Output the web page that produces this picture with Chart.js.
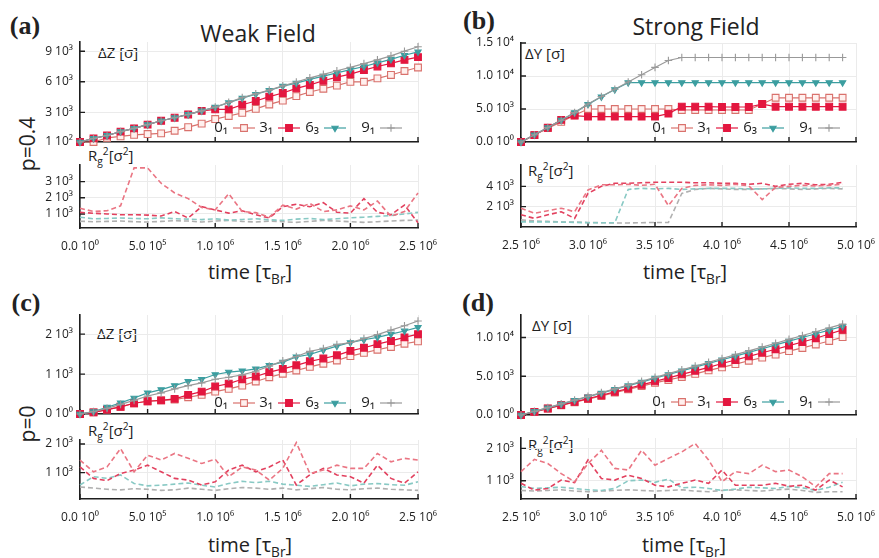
<!DOCTYPE html>
<html>
<head>
<meta charset="utf-8">
<script src="https://cdn.jsdelivr.net/npm/chart.js@4/dist/chart.umd.min.js"></script>
<style>
  html, body { margin: 0; padding: 0; background: #fff; }
  #fig { position: relative; width: 879px; height: 558px; overflow: hidden;
         font-family: "Open Sans", "Noto Sans", sans-serif; color: #222; }
  #fig canvas { position: absolute; }
  .t { position: absolute; white-space: nowrap; line-height: 1; }
  .c { transform: translate(-50%, -50%); }
  .l { transform: translateY(-50%); }
  .panel { font-family: "Liberation Serif", serif; font-weight: bold; font-size: 26px; }
  .title { font-size: 23px; }
  .xt { font-size: 20px; }
  .yl { font-size: 15px; }
  .p { font-size: 21px; transform: translate(-50%, -50%) rotate(-90deg); }
  sub, sup { font-size: 68%; line-height: 0; }
</style>
</head>
<body>
<div id="fig">
  <div class="t c panel" style="left:25px;top:26px">(a)</div>
  <div class="t c panel" style="left:479px;top:21px">(b)</div>
  <div class="t c panel" style="left:26px;top:303px">(c)</div>
  <div class="t c panel" style="left:478px;top:303px">(d)</div>
  <div class="t c title" style="left:258px;top:33px">Weak Field</div>
  <div class="t c title" style="left:696px;top:26px">Strong Field</div>
  <div class="t p" style="left:27px;top:144px">p=0.4</div>
  <div class="t p" style="left:27px;top:424px">p=0</div>
  <div class="t c xt" style="left:250px;top:272px">time [τ<sub>Br</sub>]</div>
  <div class="t c xt" style="left:685px;top:272px">time [τ<sub>Br</sub>]</div>
  <div class="t c xt" style="left:250px;top:545px">time [τ<sub>Br</sub>]</div>
  <div class="t c xt" style="left:684px;top:545px">time [τ<sub>Br</sub>]</div>
  <div class="t l yl" style="left:98px;top:52px">ΔZ [σ]</div>
  <div class="t l yl" style="left:525px;top:53px">ΔY [σ]</div>
  <div class="t l yl" style="left:97px;top:333px">ΔZ [σ]</div>
  <div class="t l yl" style="left:532px;top:325px">ΔY [σ]</div>
  <div class="t l yl" style="left:88px;top:155px">R<sub>g</sub><sup>2</sup>[σ<sup>2</sup>]</div>
  <div class="t l yl" style="left:528px;top:170px">R<sub>g</sub><sup>2</sup>[σ<sup>2</sup>]</div>
  <div class="t l yl" style="left:88px;top:430px">R<sub>g</sub><sup>2</sup>[σ<sup>2</sup>]</div>
  <div class="t l yl" style="left:528px;top:444px">R<sub>g</sub><sup>2</sup>[σ<sup>2</sup>]</div>
</div>
<script>
// ---- sampling times ----
const timeWeak = [0, 100000, 200000, 300000, 400000, 500000, 600000, 700000, 800000, 900000,
  1000000, 1100000, 1200000, 1300000, 1400000, 1500000, 1600000, 1700000, 1800000, 1900000,
  2000000, 2100000, 2200000, 2300000, 2400000, 2500000];
const timeStrong = [2500000, 2600000, 2700000, 2800000, 2900000, 3000000, 3100000, 3200000,
  3300000, 3400000, 3500000, 3600000, 3700000, 3800000, 3900000, 4000000, 4100000, 4200000,
  4300000, 4400000, 4500000, 4600000, 4700000, 4800000, 4900000];

// ---- knot types ----
const knots = ['0₁', '3₁', '6₃', '9₁'];

// ---- (a) weak field, p=0.4 : displacement along Z ----
const aDisp01 = [100, 100, 500, 650, 800, 880, 950, 1200, 1550, 1900, 2350, 2650, 2950, 3350, 3780, 4150, 4600, 5000, 5320, 5620, 6000, 6000, 6340, 6670, 7060, 7400];
const aDisp31 = [100, 450, 740, 1120, 1440, 1800, 2180, 2480, 2800, 3150, 3300, 3300, 3750, 4120, 4550, 4900, 5350, 5700, 6100, 6450, 6750, 7150, 7500, 7800, 8150, 8420];
const aDisp63 = [100, 450, 740, 1120, 1440, 1800, 2180, 2480, 2800, 3150, 3520, 3950, 4400, 4780, 5150, 5580, 5870, 6230, 6560, 6880, 7200, 7500, 7850, 8200, 8600, 8930];
const aDisp91 = [100, 450, 740, 1120, 1440, 1800, 2180, 2480, 2800, 3150, 3520, 3980, 4450, 4820, 5180, 5600, 5980, 6380, 6730, 7080, 7420, 7780, 8150, 8540, 9000, 9430];
// (a) radius of gyration
const aRg01 = [1350, 1150, 1200, 1500, 3850, 3850, 2900, 2300, 1950, 1400, 1250, 2250, 1150, 1080, 800, 1550, 1300, 1650, 1150, 1250, 1500, 1250, 1800, 850, 1150, 2300];
const aRg31 = [1100, 1040, 1000, 950, 950, 930, 870, 1150, 750, 1450, 1250, 1050, 1200, 950, 750, 1450, 1600, 1450, 1700, 1100, 1050, 1950, 1100, 950, 1550, 450];
const aRg63 = [800, 700, 720, 750, 720, 700, 760, 700, 680, 650, 700, 620, 660, 700, 640, 600, 680, 720, 650, 700, 760, 800, 850, 900, 1000, 1100];
const aRg91 = [550, 520, 540, 560, 520, 500, 540, 580, 560, 500, 560, 600, 540, 500, 560, 520, 480, 540, 600, 560, 520, 480, 520, 560, 600, 620];

// ---- (b) strong field, p=0.4 : displacement along Y ----
const bDisp01 = [0, 1050, 2100, 3050, 4050, 5000, 5000, 5000, 5000, 5000, 5000, 5000, 4850, 4850, 4850, 4850, 4850, 4850, 5750, 6700, 6700, 6700, 6700, 6700, 6700];
const bDisp31 = [0, 1050, 2150, 3350, 4000, 3850, 3850, 3850, 3850, 3850, 3850, 4300, 5350, 5350, 5350, 5300, 5300, 5300, 5750, 5350, 5350, 5350, 5350, 5350, 5350];
const bDisp63 = [0, 1100, 2200, 3300, 4450, 5700, 6850, 7950, 9000, 9000, 9000, 9000, 9000, 9000, 9000, 9000, 9000, 9000, 9000, 9000, 9000, 9000, 9000, 9000, 9000];
const bDisp91 = [0, 1100, 2200, 3300, 4450, 5750, 6900, 8000, 9100, 10200, 11300, 12350, 12800, 12800, 12800, 12800, 12800, 12800, 12800, 12800, 12800, 12800, 12800, 12800, 12800];
const bRg01 = [1850, 1350, 1600, 1850, 1500, 3650, 4150, 4150, 4200, 4100, 4200, 2100, 3800, 4100, 4150, 4100, 4200, 4050, 2700, 3900, 4000, 4100, 4050, 4100, 4200];
const bRg31 = [1200, 850, 1200, 1500, 850, 3300, 4000, 4300, 4300, 4350, 4400, 4400, 4400, 4350, 4350, 4300, 4300, 4200, 4300, 4000, 4200, 4300, 4150, 4200, 4400];
const bRg63 = [500, 500, 500, 480, 450, 420, 420, 420, 3700, 3800, 3750, 3800, 3700, 3750, 3800, 3800, 3800, 3750, 3750, 3800, 3850, 3800, 3800, 3850, 3850];
const bRg91 = [700, 600, 550, 500, 480, 450, 420, 400, 400, 420, 450, 450, 3300, 3700, 3800, 3750, 3700, 3700, 3750, 3800, 3750, 3700, 3750, 3800, 3750];

// ---- (c) weak field, p=0 : displacement along Z ----
const cDisp01 = [0, 40, 110, 180, 270, 320, 340, 360, 420, 480, 560, 630, 710, 815, 920, 1010, 1090, 1180, 1260, 1340, 1450, 1530, 1610, 1680, 1760, 1820];
const cDisp31 = [0, 40, 110, 180, 270, 320, 340, 380, 480, 560, 690, 760, 870, 940, 1050, 1130, 1220, 1320, 1390, 1470, 1580, 1660, 1750, 1830, 1920, 2000];
const cDisp63 = [0, 60, 170, 280, 400, 530, 610, 710, 820, 870, 990, 1050, 1080, 1130, 1220, 1300, 1430, 1490, 1600, 1700, 1790, 1860, 1920, 2000, 2080, 2170];
const cDisp91 = [0, 60, 140, 240, 340, 450, 530, 630, 710, 780, 870, 920, 980, 1070, 1200, 1330, 1440, 1570, 1640, 1740, 1790, 1890, 1990, 2100, 2210, 2330];
const cRg01 = [1440, 1030, 1200, 1840, 1030, 1610, 1440, 1670, 1500, 1320, 1470, 860, 1200, 1090, 740, 1150, 2050, 970, 1090, 1260, 1150, 1150, 1670, 1380, 1500, 1440];
const cRg31 = [1200, 800, 720, 970, 1090, 1260, 1030, 800, 740, 570, 680, 1090, 1260, 1030, 1200, 1440, 570, 920, 1150, 920, 860, 630, 1260, 800, 630, 1030];
const cRg63 = [570, 860, 800, 920, 620, 540, 560, 600, 640, 560, 500, 620, 700, 650, 700, 600, 560, 520, 580, 640, 540, 600, 620, 580, 560, 680];
const cRg91 = [500, 460, 420, 400, 440, 420, 380, 400, 460, 420, 380, 440, 480, 460, 420, 460, 400, 440, 480, 420, 400, 440, 460, 420, 400, 380];

// ---- (d) strong field, p=0 : displacement along Y ----
const dDisp01 = [0, 400, 820, 1250, 1650, 2050, 2450, 2880, 3300, 3720, 4150, 4520, 4900, 5300, 5750, 6150, 6560, 7000, 7400, 7800, 8250, 8650, 9100, 9550, 10040];
const dDisp31 = [0, 410, 840, 1280, 1700, 2120, 2550, 2980, 3420, 3880, 4340, 4780, 5250, 5700, 6150, 6640, 7100, 7560, 8030, 8480, 8950, 9420, 9900, 10450, 10990];
const dDisp63 = [0, 460, 920, 1400, 1880, 2350, 2820, 3300, 3780, 4250, 4750, 5220, 5700, 6180, 6650, 7130, 7600, 8080, 8550, 9050, 9520, 10000, 10480, 10950, 11450];
const dDisp91 = [0, 470, 950, 1430, 1920, 2400, 2880, 3370, 3860, 4350, 4850, 5330, 5820, 6300, 6800, 7290, 7780, 8270, 8760, 9260, 9750, 10250, 10740, 11230, 11720];
const dRg01 = [1280, 1660, 1530, 1220, 970, 1530, 1940, 1380, 1330, 1940, 1480, 1690, 1890, 2150, 1640, 970, 1280, 1220, 1480, 1280, 1330, 1120, 810, 1220, 1220];
const dRg31 = [920, 710, 760, 1020, 940, 1640, 1070, 1020, 1170, 1070, 860, 810, 920, 1020, 920, 1330, 860, 860, 860, 920, 830, 860, 710, 1020, 810];
const dRg63 = [820, 760, 780, 800, 760, 720, 700, 760, 1000, 1020, 950, 1050, 780, 800, 760, 700, 740, 800, 780, 760, 820, 780, 700, 800, 950];
const dRg91 = [700, 680, 700, 720, 680, 660, 680, 700, 720, 700, 680, 700, 720, 680, 660, 700, 720, 700, 680, 720, 740, 700, 640, 660, 660];

// ---- tick values and labels ----
const weakXTicks = [0, 500000, 1000000, 1500000, 2000000, 2500000];
const weakXLabels = ['0.0 10⁰', '5.0 10⁵', '1.0 10⁶', '1.5 10⁶', '2.0 10⁶', '2.5 10⁶'];
const strongXTicks = [2500000, 3000000, 3500000, 4000000, 4500000, 5000000];
const strongXLabels = ['2.5 10⁶', '3.0 10⁶', '3.5 10⁶', '4.0 10⁶', '4.5 10⁶', '5.0 10⁶'];
const aDispTicks = [100, 3000, 6000, 9000];
const aDispLabels = ['1 10²', '3 10³', '6 10³', '9 10³'];
const aRgTicks = [1000, 2000, 3000];
const aRgLabels = ['1 10³', '2 10³', '3 10³'];
const bDispTicks = [0, 5000, 10000, 15000];
const bDispLabels = ['0.0 10⁰', '5.0 10³', '1.0 10⁴', '1.5 10⁴'];
const bRgTicks = [2000, 4000];
const bRgLabels = ['2 10³', '4 10³'];
const cDispTicks = [0, 1000, 2000];
const cDispLabels = ['0 10⁰', '1 10³', '2 10³'];
const cRgTicks = [1000, 2000];
const cRgLabels = ['1 10³', '2 10³'];
const dDispTicks = [0, 5000, 10000];
const dDispLabels = ['0.0 10⁰', '5.0 10³', '1.0 10⁴'];
const dRgTicks = [1000, 2000];
const dRgLabels = ['1 10³', '2 10³'];

// ---- styling ----
const AXIS = '#1e1e1e';
const GRID = '#ebebeb';
const TEXT = '#1e1e1e';
const FONT = '"Open Sans", "Noto Sans", sans-serif';
const knotStyle = {
  '0₁': { color: '#d9716c', fill: '#fff0ee', style: 'rect', r: 4.8, rot: 0, dash: '#ea7583', order: 3 },
  '3₁': { color: '#e3173f', fill: '#e3173f', style: 'rect', r: 4.8, rot: 0, dash: '#e2405e', order: 2 },
  '6₃': { color: '#3c9ea0', fill: '#3c9ea0', style: 'triangle', r: 3.6, rot: 180, dash: '#88c9c4', order: 1 },
  '9₁': { color: '#999999', fill: '#999999', style: 'cross', r: 3.8, rot: 0, dash: '#b0b0b0', order: 0 }
};
const rgOrder = { '0₁': 0, '3₁': 1, '6₃': 2, '9₁': 3 };
// key entry centres, measured from the right edge of the plot area
const keyOffsets = [174, 129, 83, 27];

function pairs(times, vals) { return times.map((t, i) => ({ x: t, y: vals[i] })); }

function dispSet(times, vals, key) {
  const s = knotStyle[key];
  return {
    label: key, data: pairs(times, vals), borderColor: s.color, borderWidth: 1.2,
    pointStyle: s.style, pointRadius: s.r, pointRotation: s.rot,
    pointBackgroundColor: s.fill, pointBorderColor: s.color, pointBorderWidth: 1.1,
    clip: false, order: s.order, tension: 0
  };
}
function rgSet(times, vals, key) {
  const s = knotStyle[key];
  return {
    label: key, data: pairs(times, vals), borderColor: s.dash, borderWidth: 1.6,
    borderDash: [5, 3], pointRadius: 0, clip: false, order: rgOrder[key], tension: 0
  };
}

// inward tick marks on the left and bottom axes
const inwardTicks = {
  id: 'inwardTicks',
  beforeDatasetsDraw(chart) {
    const { ctx, chartArea: a, scales: { x, y } } = chart;
    ctx.save();
    ctx.strokeStyle = AXIS; ctx.lineWidth = 1.4;
    ctx.beginPath();
    x.ticks.forEach(t => { const px = x.getPixelForValue(t.value); ctx.moveTo(px, a.bottom); ctx.lineTo(px, a.bottom - 5); });
    y.ticks.forEach(t => { const py = y.getPixelForValue(t.value); ctx.moveTo(a.left, py); ctx.lineTo(a.left + 5, py); });
    ctx.stroke();
    ctx.restore();
  }
};

// one-row key: title followed by a line sample with its marker
const keyRow = {
  id: 'keyRow',
  afterDatasetsDraw(chart, args, opts) {
    if (!opts || !opts.show) return;
    const { ctx, chartArea: a } = chart;
    const y = a.bottom - opts.lift;
    ctx.save();
    chart.data.datasets.forEach((ds, i) => {
      const cx = a.right - keyOffsets[i];
      ctx.fillStyle = TEXT; ctx.font = '15px ' + FONT;
      ctx.textAlign = 'right'; ctx.textBaseline = 'middle';
      ctx.fillText(ds.label, cx - 16, y);
      ctx.strokeStyle = ds.borderColor; ctx.lineWidth = 1.2;
      ctx.beginPath(); ctx.moveTo(cx - 11, y); ctx.lineTo(cx + 11, y); ctx.stroke();
      ctx.fillStyle = ds.pointBackgroundColor; ctx.strokeStyle = ds.pointBorderColor;
      ctx.lineWidth = ds.pointBorderWidth;
      Chart.helpers.drawPoint(ctx, { pointStyle: ds.pointStyle, radius: ds.pointRadius,
        rotation: ds.pointRotation, borderWidth: ds.pointBorderWidth }, cx, y);
    });
    ctx.restore();
  }
};

const fig = document.getElementById('fig');

function plot(cfg) {
  const PADL = 80, PADT = 10, PADR = 22;
  const XH = cfg.xLabels ? 34 : 0;
  const PADB = cfg.xLabels ? 0 : 8;
  const [l, t, r, b] = cfg.rect;
  const cv = document.createElement('canvas');
  cv.width = r - l + PADL + PADR;
  cv.height = b - t + PADT + XH + PADB;
  cv.style.left = (l - PADL) + 'px';
  cv.style.top = (t - PADT) + 'px';
  fig.appendChild(cv);
  const tickFont = { family: FONT, size: 12 };
  new Chart(cv, {
    type: 'line',
    data: { datasets: cfg.datasets },
    options: {
      responsive: false, animation: false, events: [], devicePixelRatio: 1,
      layout: { padding: { left: 0, top: PADT, right: PADR, bottom: PADB } },
      plugins: { legend: { display: false }, tooltip: { enabled: false },
                 keyRow: { show: !!cfg.key, lift: cfg.key || 0 } },
      scales: {
        x: {
          type: 'linear', min: cfg.xTicks[0], max: cfg.xTicks[cfg.xTicks.length - 1],
          afterBuildTicks: s => { s.ticks = cfg.xTicks.map(v => ({ value: v })); },
          afterFit: s => { s.height = XH; s.paddingLeft = 0; s.paddingRight = 0; },
          grid: { color: GRID, drawTicks: false, lineWidth: 1 },
          border: { color: AXIS, width: 1.6 },
          ticks: { display: !!cfg.xLabels, autoSkip: false, maxRotation: 0, padding: 11,
                   font: tickFont, color: TEXT,
                   callback: (v, i) => cfg.xLabels ? cfg.xLabels[i] : '' }
        },
        y: {
          type: 'linear', min: cfg.yRange[0], max: cfg.yRange[1],
          afterBuildTicks: s => { s.ticks = cfg.yTicks.map(v => ({ value: v })); },
          afterFit: s => { s.width = PADL; s.paddingTop = 0; s.paddingBottom = 0; },
          grid: { color: GRID, drawTicks: false, lineWidth: 1 },
          border: { color: AXIS, width: 1.6 },
          ticks: { autoSkip: false, padding: 7, font: tickFont, color: TEXT,
                   callback: (v, i) => cfg.yLabels[i] }
        }
      }
    },
    plugins: [inwardTicks, keyRow]
  });
}

const dispSeries = (times, s0, s1, s2, s3) =>
  [dispSet(times, s0, knots[0]), dispSet(times, s1, knots[1]), dispSet(times, s2, knots[2]), dispSet(times, s3, knots[3])];
const rgSeries = (times, s0, s1, s2, s3) =>
  [rgSet(times, s0, knots[0]), rgSet(times, s1, knots[1]), rgSet(times, s2, knots[2]), rgSet(times, s3, knots[3])];

// (a)
plot({ rect: [80, 42, 418, 142], xTicks: weakXTicks, yRange: [100, 9900], yTicks: aDispTicks, yLabels: aDispLabels,
       datasets: dispSeries(timeWeak, aDisp01, aDisp31, aDisp63, aDisp91), key: 14 });
plot({ rect: [80, 165, 418, 228], xTicks: weakXTicks, xLabels: weakXLabels, yRange: [130, 4030], yTicks: aRgTicks, yLabels: aRgLabels,
       datasets: rgSeries(timeWeak, aRg01, aRg31, aRg63, aRg91) });
// (b)
plot({ rect: [521, 43, 856, 142], xTicks: strongXTicks, yRange: [0, 15000], yTicks: bDispTicks, yLabels: bDispLabels,
       datasets: dispSeries(timeStrong, bDisp01, bDisp31, bDisp63, bDisp91), key: 14 });
plot({ rect: [521, 165, 856, 227], xTicks: strongXTicks, xLabels: strongXLabels, yRange: [0, 6100], yTicks: bRgTicks, yLabels: bRgLabels,
       datasets: rgSeries(timeStrong, bRg01, bRg31, bRg63, bRg91) });
// (c)
plot({ rect: [80, 315, 418, 414], xTicks: weakXTicks, yRange: [0, 2480], yTicks: cDispTicks, yLabels: cDispLabels,
       datasets: dispSeries(timeWeak, cDisp01, cDisp31, cDisp63, cDisp91), key: 11 });
plot({ rect: [80, 440, 418, 499], xTicks: weakXTicks, xLabels: weakXLabels, yRange: [80, 2140], yTicks: cRgTicks, yLabels: cRgLabels,
       datasets: rgSeries(timeWeak, cRg01, cRg31, cRg63, cRg91) });
// (d)
plot({ rect: [521, 315, 856, 415], xTicks: strongXTicks, yRange: [0, 12900], yTicks: dDispTicks, yLabels: dDispLabels,
       datasets: dispSeries(timeStrong, dDisp01, dDisp31, dDisp63, dDisp91), key: 13 });
plot({ rect: [521, 438, 856, 499], xTicks: strongXTicks, xLabels: strongXLabels, yRange: [435, 2320], yTicks: dRgTicks, yLabels: dRgLabels,
       datasets: rgSeries(timeStrong, dRg01, dRg31, dRg63, dRg91) });
</script>
</body>
</html>
